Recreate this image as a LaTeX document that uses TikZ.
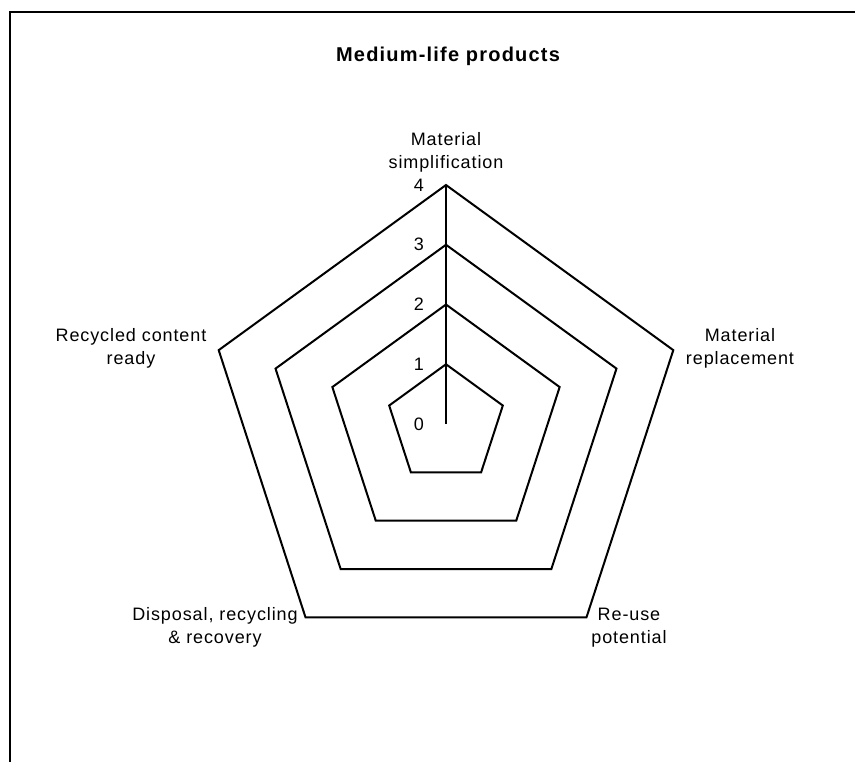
\documentclass[tikz,border=0pt]{standalone}
\usepackage{fontspec}
\setmainfont{Liberation Sans}
\newfontfamily\lblfont[LetterSpace=5]{Liberation Sans}
\newfontfamily\ttlfont[LetterSpace=6]{Liberation Sans}
\usetikzlibrary{calc}
\begin{document}
\begin{tikzpicture}[x=1pt,y=-1pt,
  gridline/.style={line width=2pt, line join=miter},
  framestyle/.style={line width=2pt},
  axislabel/.style={font={\lblfont\fontsize{18}{23}\selectfont}, align=center, inner sep=0pt, anchor=base},
  ticklabel/.style={font={\lblfont\fontsize{18}{23}\selectfont}, inner sep=0pt, anchor=east},
  titlelabel/.style={font={\ttlfont\bfseries\fontsize{20}{23}\selectfont}, inner sep=0pt, anchor=base},
  ]
\useasboundingbox (0,0) rectangle (855,762);
% chart area frame (left and top edges)
\draw[framestyle] (9.5,762) -- (9.5,12.5) -- (855,12.5);

% radar grid: pentagons for levels 1 to 4
\coordinate (c) at (446,424);
\foreach \k in {1,...,4}{
  \foreach \i in {0,...,4}{
    \coordinate (v\k-\i) at ($(c)+({59.75*\k*sin(72*\i)},{-59.75*\k*cos(72*\i)})$);
  }
  \draw[gridline] (v\k-0) -- (v\k-1) -- (v\k-2) -- (v\k-3) -- (v\k-4) -- cycle;
}
% value axis
\draw[gridline] (c) -- (v4-0);

% axis scale
\node[ticklabel] (t0) at (424,424) {0};
\node[ticklabel] (t1) at (424,364.25) {1};
\node[ticklabel] (t2) at (424,304.5) {2};
\node[ticklabel] (t3) at (424,244.75) {3};
\node[ticklabel] (t4) at (424,185) {4};

% title and category labels (base anchor sits on the last line)
\node[titlelabel] (title) at (448,61.5) {Medium-life products};
\node[axislabel] (cat0) at (446,169) {Material\\simplification};
\node[axislabel] (cat1) at (740,365) {Material\\replacement};
\node[axislabel] (cat2) at (629,643) {Re-use\\potential};
\node[axislabel] (cat3) at (215,643) {Disposal, recycling\\\& recovery};
\node[axislabel] (cat4) at (131,365) {Recycled content\\ready};
\end{tikzpicture}
\end{document}
